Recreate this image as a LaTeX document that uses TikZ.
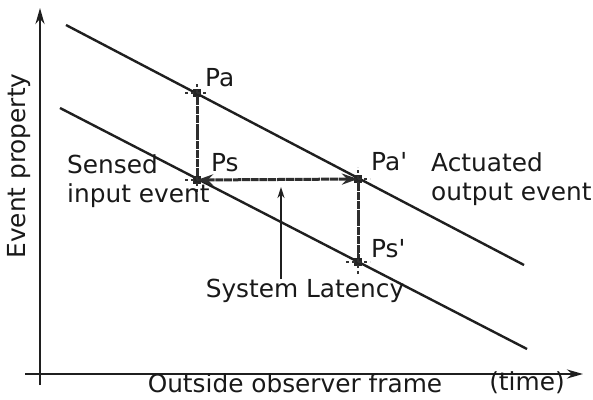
\documentclass[tikz,border=0pt]{standalone}
\usepackage{fontspec}
\setmainfont{DejaVu Sans}
\usetikzlibrary{arrows.meta}
\tikzset{
  ln/.style={line width=2.4pt, black!88},
  ax/.style={line width=2.4pt, black!88, -{Stealth[length=16pt,width=9pt]}},
  guide/.style={line width=3pt, black!82, dash pattern=on 8pt off 0.8pt},
  lbl/.style={font=\fontsize{24.8}{29}\selectfont, inner sep=0pt, text=black!90},
  pt/.style={fill=black!85, minimum size=8pt, inner sep=0pt},
  cross/.style={line width=1.4pt, dash pattern=on 3pt off 3pt, black!80},
}
\begin{document}
\begin{tikzpicture}[x=1pt,y=-1pt]
\useasboundingbox (0,0) rectangle (593,399);
% axes
\coordinate (yb) at (40,385);
\coordinate (yt) at (40,8);
\coordinate (xl) at (25,374);
\coordinate (xr) at (583,374);
\draw[ax] (yb) -- (yt);
\draw[ax] (xl) -- (xr);
% event lines
\coordinate (u1) at (66,25);
\coordinate (u2) at (524,265);
\coordinate (l1) at (60,108);
\coordinate (l2) at (527,349);
\draw[ln] (u1) -- (u2);
\draw[ln] (l1) -- (l2);
% points
\node[pt] (Pa) at (197,93) {};
\node[pt] (Ps) at (197,180) {};
\node[pt] (Pa2) at (358,179) {};
\node[pt] (Ps2) at (358,262) {};
\foreach \p in {Pa,Ps,Pa2,Ps2}{
  \draw[cross] ([xshift=-12pt]\p.center) -- ([xshift=12pt]\p.center);
  \draw[cross] ([yshift=-12pt]\p.center) -- ([yshift=12pt]\p.center);
}
% guides
\draw[guide] (Pa) -- (Ps);
\draw[guide] (Pa2) -- (Ps2);
\draw[guide, {Stealth[length=16pt,width=11pt]}-{Stealth[length=16pt,width=11pt]}] (Ps.center) -- (Pa2.center);
% latency
\node[lbl] (lat) at (305,291) {System Latency};
\coordinate (latT) at (281,187);
\draw[line width=2.4pt, black!88, -{Stealth[length=11pt,width=7pt]}] (281,279) -- (latT);
% labels
\node[lbl, anchor=west] (tPa) at (205,78) {Pa};
\node[lbl, anchor=west] (tPs) at (211,163) {Ps};
\node[lbl, anchor=west] (tPa2) at (371,162) {Pa\textquotesingle};
\node[lbl, anchor=west] (tPs2) at (371,249) {Ps\textquotesingle};
\node[lbl, anchor=west, align=left] (sens) at (67,181) {Sensed\\input event};
\node[lbl, anchor=west, align=left] (act) at (431,179) {Actuated\\output event};
\node[lbl, rotate=90] (ep) at (19,166) {Event property};
\node[lbl] (oof) at (295,383) {Outside observer frame};
\node[lbl] (tm) at (527,383) {(time)};
\end{tikzpicture}
\end{document}
